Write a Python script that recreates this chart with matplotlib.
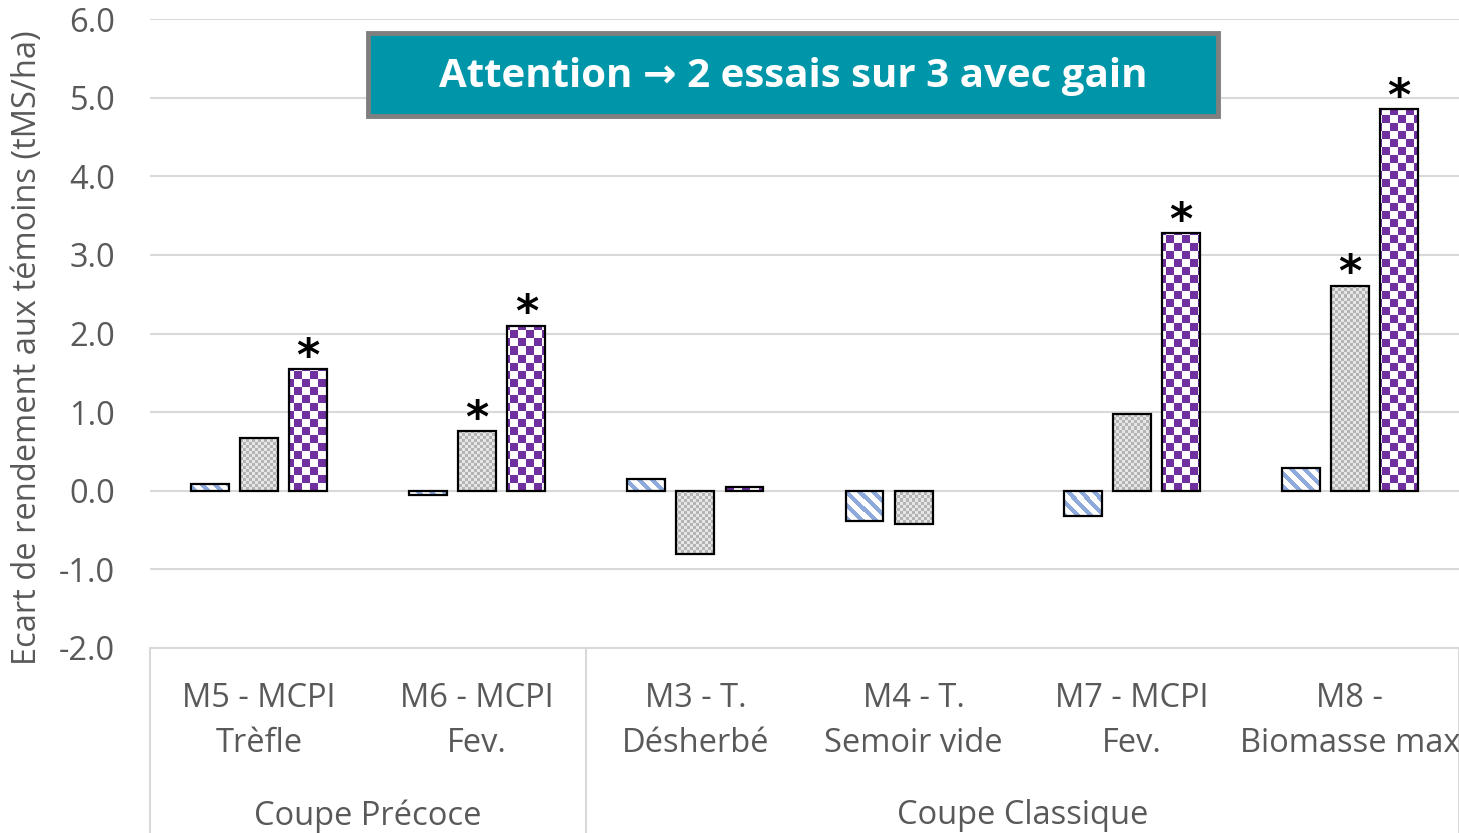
import numpy as np
import matplotlib
matplotlib.use('Agg')
import matplotlib.pyplot as plt
from matplotlib.patches import Rectangle

plt.rcParams['font.family'] = ['Open Sans', 'DejaVu Sans']

# data
categories = ['M5 - MCPI\nTrèfle', 'M6 - MCPI\nFev.', 'M3 - T.\nDésherbé',
              'M4 - T.\nSemoir vide', 'M7 - MCPI\nFev.', 'M8 -\nBiomasse max']
groups = ['Coupe Précoce', 'Coupe Classique']
group_sizes = [2, 4]
serie1 = [0.08, -0.06, 0.15, -0.38, -0.32, 0.29]
serie2 = [0.67, 0.76, -0.80, -0.42, 0.98, 2.61]
serie3 = [1.55, 2.10, 0.05, None, 3.28, 4.85]
stars2 = [False, True, False, False, False, True]
stars3 = [True, True, False, False, True, True]
yticks = [-2.0, -1.0, 0.0, 1.0, 2.0, 3.0, 4.0, 5.0, 6.0]
title_txt = 'Attention \u2192 2 essais sur 3 avec gain'

W, H = 1459, 833
fig = plt.figure(figsize=(W / 100, H / 100), dpi=100)
ax = fig.add_axes([150 / W, 1 - 648 / H, 1309 / W, 629 / H])

# textures, one pixel per screen pixel of the axes
ph, pw = 629, 1309
rr, cc = np.mgrid[0:ph, 0:pw]


def rgb(h):
    h = h.lstrip('#')
    return np.array([int(h[i:i + 2], 16) / 255 for i in (0, 2, 4)])


def make_tex(mask, c_on, c_off):
    out = np.empty((ph, pw, 3))
    out[mask] = rgb(c_on)
    out[~mask] = rgb(c_off)
    return out


tex_stripe = make_tex(((cc - rr) % 13) < 6, '#8EA9DB', '#FFFFFF')
tex_grey = make_tex(((rr // 3 + cc // 3) % 2) == 0, '#B4B4B4', '#E6E6E6')
tex_check = make_tex(((rr // 8 + cc // 8) % 2) == 0, '#7030A0', '#FFFFFF')

x = np.arange(len(categories))
bw = 0.174
off = 0.225
series = [(serie1, tex_stripe, -off), (serie2, tex_grey, 0), (serie3, tex_check, off)]

for vals, tex, dx in series:
    for i, v in enumerate(vals):
        if v is None:
            continue
        b = ax.bar(x[i] + dx, v, width=bw, facecolor='none', edgecolor='black',
                   linewidth=1.6, zorder=3)[0]
        im = ax.imshow(tex, extent=(-0.5, 5.5, -2, 6), aspect='auto',
                       interpolation='nearest', zorder=2)
        im.set_clip_path(b)

# asterisks
for i in range(len(categories)):
    if stars2[i]:
        ax.annotate('*', (x[i], serie2[i]), xytext=(0, -7), textcoords='offset points',
                    ha='center', va='bottom', fontsize=32, fontweight='bold',
                    family='DejaVu Sans')
    if stars3[i]:
        ax.annotate('*', (x[i] + off, serie3[i]), xytext=(0, -7), textcoords='offset points',
                    ha='center', va='bottom', fontsize=32, fontweight='bold',
                    family='DejaVu Sans')

ax.set_xlim(-0.5, 5.5)
ax.set_ylim(-2, 6)
ax.set_yticks(yticks)
ax.set_yticklabels(['%.1f' % t for t in yticks])
ax.tick_params(axis='y', length=0, pad=25, labelsize=23.5, labelcolor='#595959')
ax.set_xticks([])
ax.grid(axis='y', color='#D9D9D9', linewidth=1.5, zorder=0)
ax.set_axisbelow(True)
for s in ax.spines.values():
    s.set_visible(False)
ax.spines['bottom'].set_visible(True)
ax.spines['bottom'].set_color('#D9D9D9')
ax.spines['bottom'].set_linewidth(1.5)

ax.set_ylabel('Ecart de rendement aux témoins (tMS/ha)', fontsize=23.5, color='#595959')
ax.yaxis.set_label_coords(-0.081, 0.478)

# category labels, two levels
trans = ax.get_xaxis_transform()
for i, lab in enumerate(categories):
    ax.text(x[i], -0.116, lab, transform=trans, ha='center', va='center',
            fontsize=23.5, color='#595959', linespacing=1.5)
bounds = [-0.5]
for n in group_sizes:
    bounds.append(bounds[-1] + n)
for j, g in enumerate(groups):
    ax.text((bounds[j] + bounds[j + 1]) / 2, -0.267, g, transform=trans, ha='center',
            va='center', fontsize=23.5, color='#595959')
for bx in bounds:
    ax.plot([bx, bx], [0, -0.3], transform=trans, color='#D9D9D9', linewidth=1.5,
            clip_on=False)

# title box
fig.patches.append(Rectangle((368 / W, 1 - 116 / H), 850 / W, 83 / H, transform=fig.transFigure,
                             facecolor='#0096AA', edgecolor='#7F7F7F', linewidth=3.5, zorder=5))
fig.text(793 / W, 1 - 76 / H, title_txt, ha='center', va='center', color='white',
         fontsize=29, fontweight='bold', zorder=6)

fig.savefig('out.png', dpi=100)
